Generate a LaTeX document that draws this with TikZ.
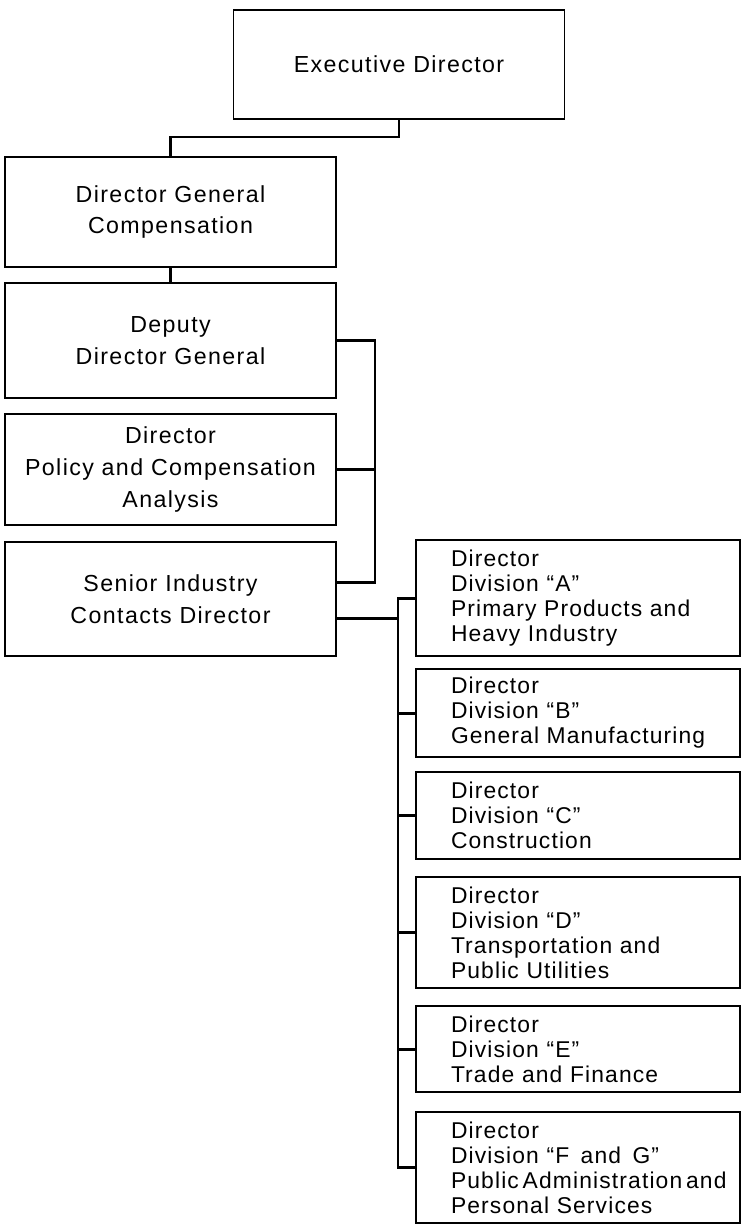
\documentclass[tikz,border=0pt]{standalone}
\usepackage{fontspec}
\usetikzlibrary{positioning}
\newfontfamily\orgfont[LetterSpace=6]{Liberation Sans}
\newfontfamily\divfont[LetterSpace=5, WordSpace=1.6]{Liberation Sans}
\tikzset{
  orgbox/.style={rectangle, draw=black, line width=1pt, outer sep=0pt,
                 minimum width=6.62cm, minimum height=#1, inner sep=0.05cm,
                 align=center, font=\orgfont\fontsize{13.2}{18.2}\selectfont},
  orgbox/.default=2.24cm,
  divbox/.style={rectangle, draw=black, line width=1pt, outer sep=0pt,
                 minimum height=#1, text width=6.4cm, inner xsep=0.04cm,
                 inner ysep=0.1cm, align=left,
                 font=\divfont\fontsize{13}{14.2}\selectfont,
                 execute at begin node={\leftskip=0.66cm}},
  divbox/.default=1.74cm,
  link/.style={line width=1.7pt, line cap=rect},
}

\begin{document}
\begin{tikzpicture}
  \useasboundingbox (0,0) rectangle (14.82,-24.48);

  % head office column
  \node[orgbox=2.18cm, anchor=north] (exec) at (7.98,-0.2) {Executive Director};
  \node[orgbox=2.2cm, anchor=north west] (dgc) at (0.1,-3.14) {Director General\\Compensation};
  \node[orgbox=2.3cm, below=0.32cm of dgc] (deputy) {Deputy\\Director General};
  \node[orgbox=2.22cm, below=0.32cm of deputy] (policy) {Director\\Policy and Compensation\\Analysis};
  \node[orgbox=2.28cm, below=0.34cm of policy] (senior) {Senior Industry\\Contacts Director};

  % divisions
  \node[divbox=2.32cm, anchor=north west] (divA) at (8.32,-10.8) {Director\\Division “A”\\Primary Products and\\Heavy Industry};
  \node[divbox=1.76cm, below=0.26cm of divA] (divB) {Director\\Division “B”\\General Manufacturing};
  \node[divbox=1.74cm, below=0.30cm of divB] (divC) {Director\\Division “C”\\Construction};
  \node[divbox=2.22cm, below=0.36cm of divC] (divD) {Director\\Division “D”\\Transportation and\\Public Utilities};
  \node[divbox=1.72cm, below=0.36cm of divD] (divE) {Director\\Division “E”\\Trade and Finance};
  \node[divbox=2.22cm, below=0.40cm of divE] (divF) {Director\\Division “F\hspace{0.5em}and\hspace{0.5em}G”\\Public\,Administration\,and\\Personal Services};

  \draw[link] (exec.south) -- ++(0,-0.36) -| (dgc.north);
  \draw[link] (dgc) -- (deputy);

  \coordinate (bus) at ([xshift=0.78cm]deputy.east);
  \coordinate (sup) at ([yshift=0.34cm]senior.east);
  \draw[link] (deputy.east) -- (bus) |- (sup);
  \draw[link] (policy.east) -- (policy.east -| bus);

  \coordinate (spine) at ([xshift=-0.36cm]divA.west);
  \coordinate (sdown) at ([yshift=-0.38cm]senior.east);
  \draw[link] (sdown) -- (sdown -| spine);
  \draw[link] (divA.west) -- (spine) |- (divF.west);
  \foreach \d in {B,C,D,E}
    \draw[link] (div\d.west) -- (div\d.west -| spine);
\end{tikzpicture}
\end{document}
